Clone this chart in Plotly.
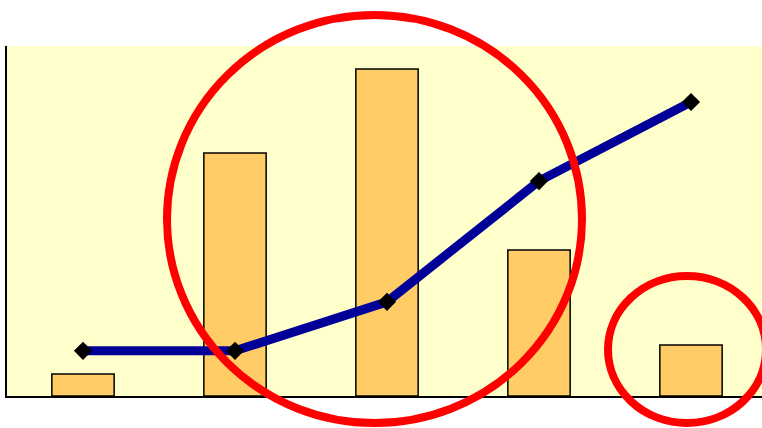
import plotly.graph_objects as go

# categories (no labels shown on the chart)
categories = ["1", "2", "3", "4", "5"]
# bar heights and line values (0-100 scale)
bar_values = [6.3, 69.4, 93.4, 41.7, 14.6]
line_values = [12.9, 12.9, 26.9, 61.4, 84.0]

W, H = 762, 428
L, T, B = 7, 46, 32
plot_w = W - L
plot_h = H - T - B


def px_x(p):
    return (p - L) / plot_w


def px_y(p):
    return (H - B - p) / plot_h


fig = go.Figure()

fig.add_trace(go.Bar(
    x=categories, y=bar_values,
    width=0.41,
    marker=dict(color="#FFCC66", line=dict(color="black", width=1.5)),
))

fig.add_trace(go.Scatter(
    x=categories, y=line_values,
    mode="lines+markers",
    line=dict(color="#000099", width=9),
    marker=dict(symbol="diamond", size=14, color="black"),
))

# red highlight circles
for x0, x1, y0, y1 in [(167, 582, 15, 423), (608, 766, 276, 423)]:
    fig.add_shape(
        type="circle", xref="paper", yref="paper",
        x0=px_x(x0), x1=px_x(x1), y0=px_y(y1), y1=px_y(y0),
        line=dict(color="#FF0000", width=8),
    )

fig.update_xaxes(
    range=[-0.5, -0.5 + plot_w / 152], showticklabels=False, ticks="",
    showgrid=False, zeroline=False,
    showline=True, linecolor="black", linewidth=1.5,
)
fig.update_yaxes(
    range=[0, 100], showticklabels=False, ticks="",
    showgrid=False, zeroline=False,
    showline=True, linecolor="black", linewidth=2,
)

fig.update_layout(
    width=W, height=H,
    margin=dict(l=L, r=0, t=T, b=B),
    plot_bgcolor="#FFFFCC", paper_bgcolor="white",
    showlegend=False,
)

# drop the browser's default page margin so the figure sits at the corner
fig.write_html("out.html", config={"displayModeBar": False},
               post_script="document.body.style.margin='0';")
